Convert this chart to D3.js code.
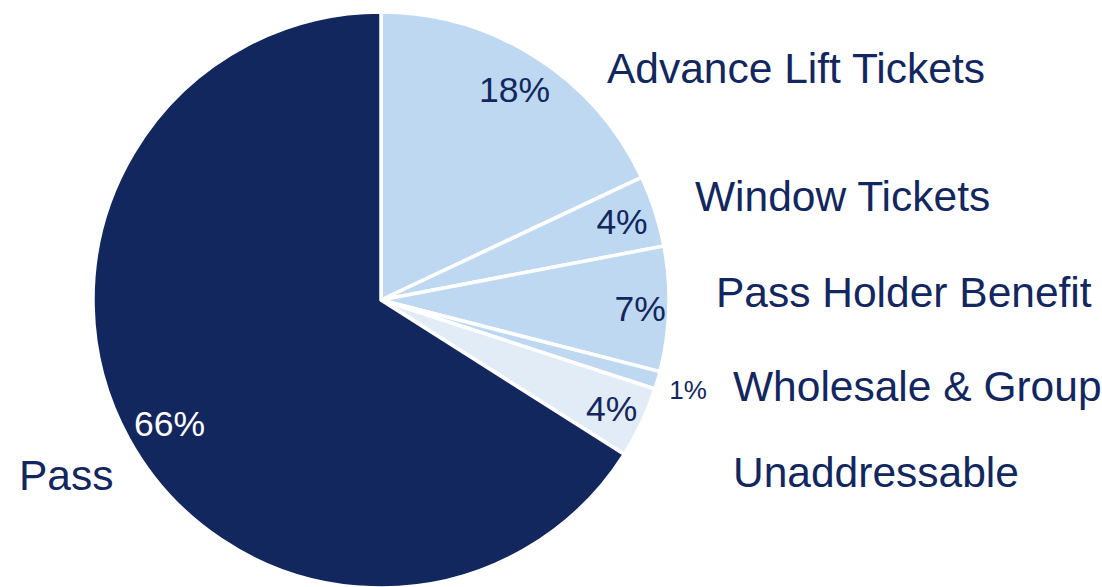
<!DOCTYPE html>
<html>
<head>
<meta charset="utf-8">
<script src="https://cdn.jsdelivr.net/npm/d3@7"></script>
<style>
  html, body { margin: 0; padding: 0; background: #ffffff; }
  svg { display: block; font-family: "Liberation Sans", Arial, sans-serif; }
</style>
</head>
<body>
<svg id="chart" width="1102" height="587"></svg>
<script>
// Ticket revenue mix, clockwise from 12 o'clock
const categories = ["Advance Lift Tickets", "Window Tickets", "Pass Holder Benefit", "Wholesale & Group", "Unaddressable", "Pass"];
const shares = [18, 4, 7, 1, 4, 66];
const percentLabels = ["18%", "4%", "7%", "1%", "4%", "66%"];

// Presentation
const sliceColors = ["#BED8F2", "#BED8F2", "#BED8F2", "#BED8F2", "#E2ECF7", "#13275F"];
const pctColors = ["#13275F", "#13275F", "#13275F", "#13275F", "#13275F", "#ffffff"];
const pctRadiusFactor = [0.865, 0.88, 0.90, 1.11, 0.885, 0.85];
const pctAngleShift = [0, 0, 0, 0, 0, -0.025];
const pctFontSize = [35.5, 35.5, 35.5, 26, 35.5, 35.5];
// Category label baselines (left-aligned)
const nameAnchors = [[607, 83], [695, 211], [716, 307], [733, 401], [733, 487], [19, 490]];

const svg = d3.select("#chart");
const cx = 381, cy = 300, R = 288;
const textColor = "#13275F";

const pie = d3.pie().sort(null).value(d => d.v).startAngle(0).endAngle(2 * Math.PI);
const data = categories.map((c, i) => ({ name: c, v: shares[i], i }));
const arcs = pie(data);

const arc = d3.arc().innerRadius(0).outerRadius(R);

const g = svg.append("g").attr("transform", `translate(${cx},${cy})`);

g.selectAll("path.slice")
  .data(arcs)
  .join("path")
  .attr("class", "slice")
  .attr("d", arc)
  .attr("fill", d => sliceColors[d.data.i])
  .attr("stroke", "#ffffff")
  .attr("stroke-width", 3.5)
  .attr("stroke-linejoin", "round");

// Percentage labels at the mid angle of each slice
const midAngle = d => (d.startAngle + d.endAngle) / 2 + pctAngleShift[d.data.i];
g.selectAll("text.pct")
  .data(arcs)
  .join("text")
  .attr("class", "pct")
  .attr("text-anchor", "middle")
  .attr("dy", "0.36em")
  .attr("x", d => Math.sin(midAngle(d)) * R * pctRadiusFactor[d.data.i])
  .attr("y", d => -Math.cos(midAngle(d)) * R * pctRadiusFactor[d.data.i])
  .attr("font-size", d => pctFontSize[d.data.i])
  .attr("fill", d => pctColors[d.data.i])
  .text(d => percentLabels[d.data.i]);

// Category names
svg.selectAll("text.name")
  .data(categories)
  .join("text")
  .attr("class", "name")
  .attr("x", (d, i) => nameAnchors[i][0])
  .attr("y", (d, i) => nameAnchors[i][1])
  .attr("font-size", 42.5)
  .attr("fill", textColor)
  .text(d => d);
</script>
</body>
</html>
